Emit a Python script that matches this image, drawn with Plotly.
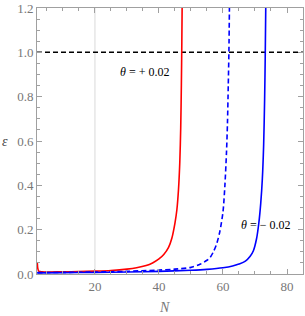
import plotly.graph_objects as go

# Red solid curve (theta = +0.02)
red_N = [2.0, 2.15, 2.4, 2.8, 3.5, 5, 10, 15, 20, 25, 30, 33, 36, 38, 40, 41.5, 43, 44, 45, 45.6, 46.1, 46.5, 46.8, 47.0, 47.15, 47.3]
red_eps = [0.05, 0.025, 0.014, 0.011, 0.01, 0.009, 0.01, 0.011, 0.013, 0.016, 0.022, 0.028, 0.038, 0.05, 0.068, 0.088, 0.12, 0.16, 0.23, 0.29, 0.38, 0.5, 0.66, 0.85, 1.05, 1.3]

# Blue dashed curve
bd_N = [2.0, 10, 20, 30, 40, 45, 50, 53, 55, 56, 57, 58, 59, 60, 60.6, 61.1, 61.4, 61.65, 61.85, 62.05]
bd_eps = [0.006, 0.007, 0.009, 0.012, 0.018, 0.022, 0.03, 0.045, 0.062, 0.075, 0.1, 0.135, 0.19, 0.28, 0.4, 0.55, 0.68, 0.85, 1.0, 1.25]

# Blue solid curve (theta = -0.02)
bs_N = [2.0, 10, 20, 30, 40, 50, 55, 60, 63, 65, 67, 68.5, 69.5, 70.5, 71.2, 71.8, 72.3, 72.7, 73.0, 73.2, 73.4]
bs_eps = [0.005, 0.006, 0.007, 0.009, 0.012, 0.017, 0.021, 0.028, 0.036, 0.045, 0.058, 0.08, 0.105, 0.16, 0.23, 0.32, 0.43, 0.58, 0.78, 0.98, 1.25]

hline_eps = [1.0, 1.0]
hline_N = [1.9, 85]

x_ticks = [20, 40, 60, 80]
y_ticks = [0.0, 0.2, 0.4, 0.6, 0.8, 1.0, 1.2]
y_ticklabels = ["0.0", "0.2", "0.4", "0.6", "0.8", "1.0", "1.2"]

fig = go.Figure()
fig.add_trace(go.Scatter(x=[20, 20], y=[0, 1.2], mode="lines",
                         line=dict(color="#d9d9d9", width=1), showlegend=False))
fig.add_trace(go.Scatter(x=hline_N, y=hline_eps, mode="lines",
                         line=dict(color="black", width=1.5, dash="5px,3px"), showlegend=False))
fig.add_trace(go.Scatter(x=red_N, y=red_eps, mode="lines",
                         line=dict(color="#ff0000", width=1.6, shape="spline", smoothing=0.8), showlegend=False))
fig.add_trace(go.Scatter(x=bd_N, y=bd_eps, mode="lines",
                         line=dict(color="#0000ff", width=1.6, dash="5px,3px", shape="spline", smoothing=0.8), showlegend=False))
fig.add_trace(go.Scatter(x=bs_N, y=bs_eps, mode="lines",
                         line=dict(color="#0000ff", width=1.6, shape="spline", smoothing=0.8), showlegend=False))

fig.add_annotation(x=35.5, y=0.913, xref="x", yref="y", text="<i>θ</i> = + 0.02",
                   showarrow=False, font=dict(family="Liberation Serif", size=12, color="black"))
fig.add_annotation(x=73.4, y=0.223, xref="x", yref="y", text="<i>θ</i> = − 0.02",
                   showarrow=False, font=dict(family="Liberation Serif", size=12, color="black"))
# axis titles
fig.add_annotation(x=0.48, y=-0.125, xref="paper", yref="paper", text="<i>N</i>", showarrow=False,
                   yanchor="middle", font=dict(family="Liberation Serif", size=14, color="#777777"))
fig.add_annotation(x=-0.12, y=0.5, xref="paper", yref="paper", text="<i>ε</i>", showarrow=False,
                   xanchor="center", font=dict(family="Liberation Serif", size=14, color="#444444"))

axis_common = dict(showgrid=False, zeroline=False, showline=True, linecolor="#a0a0a0", linewidth=1,
                   mirror="allticks", ticks="inside", ticklen=5, tickcolor="#a0a0a0", automargin=False,
                   tickfont=dict(family="Liberation Serif", size=13, color="#777777"))

fig.update_xaxes(range=[1.9, 85], tickvals=x_ticks, ticktext=[str(v) for v in x_ticks],
                 minor=dict(ticks="inside", ticklen=3, tickcolor="#a0a0a0", dtick=5, tick0=0, showgrid=False),
                 **axis_common)
fig.update_yaxes(range=[0, 1.2], tickvals=y_ticks, ticktext=y_ticklabels,
                 minor=dict(ticks="inside", ticklen=3, tickcolor="#a0a0a0", dtick=0.05, tick0=0, showgrid=False),
                 **axis_common)

fig.update_layout(width=305, height=316, margin=dict(l=37, r=2, t=8, b=42),
                  plot_bgcolor="white", paper_bgcolor="white", showlegend=False)

fig.write_html("out.html", config={"displayModeBar": False},
               post_script="document.body.style.margin='0';document.body.style.overflow='hidden';")
